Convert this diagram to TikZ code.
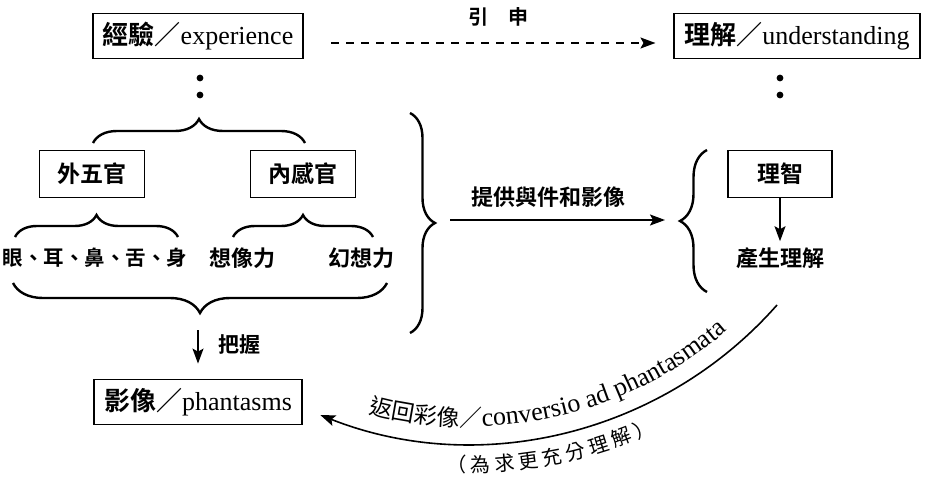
\documentclass[tikz,border=0pt]{standalone}
\usepackage{fontspec}
\setmainfont{Liberation Serif}
\newfontfamily\cjk{Noto Sans CJK TC}[BoldFont={Noto Sans CJK TC Bold}]
\usetikzlibrary{decorations.pathreplacing,decorations.text,arrows.meta,calc}
\newcommand\cjkc{\cjk\mdseries\fontsize{23}{23}\selectfont}
\newcommand\latc{\rmfamily\mdseries\fontsize{26}{26}\selectfont}
\newcommand\cjkp{\cjk\mdseries\fontsize{20}{20}\selectfont}
\begin{document}
\begin{tikzpicture}[x=1pt,y=-1pt,
 box/.style={draw,line width=1.8pt,inner xsep=10pt,inner ysep=0pt,minimum height=45pt,font=\fontsize{26}{30}\selectfont},
 sbox/.style={draw,line width=1.8pt,minimum width=105pt,minimum height=47pt,inner sep=0pt,font=\cjk\bfseries\fontsize{23}{28}\selectfont},
 lbl/.style={inner sep=1pt,font=\cjk\bfseries\fontsize{22}{26}\selectfont},
 brc/.style={decorate,decoration={brace,amplitude=#1},line width=2.4pt},
 arr/.style={line width=1.6pt,-{Stealth[length=15pt,width=11pt,inset=3pt]}},
]
\useasboundingbox (0,0) rectangle (925,484);

% top boxes
\node[box] (exp) at (198,36) {{\cjk\bfseries 經驗／}experience};
\node[box] (und) at (797,36) {{\cjk\bfseries 理解／}understanding};
\node[lbl,font=\cjk\bfseries\fontsize{20}{24}\selectfont] (yin) at (498,17) {引\hspace{1em}申};
\draw[arr,dash pattern=on 8pt off 7pt,shorten <=27pt,shorten >=18pt]
  ([yshift=-7pt]exp.east) -- ([yshift=-7pt]und.west);

% dots
\fill (200,78) circle[radius=3.4];
\fill (200,95) circle[radius=3.4];
\fill (780,78) circle[radius=3.4];
\fill (780,95) circle[radius=3.4];

% senses
\draw[brc=24pt] (93,143) -- (305,143);
\node[sbox] (wai) at (92,174) {外五官};
\node[sbox] (nei) at (303,174) {內感官};
\draw[brc=22pt] (15,237) -- (178,237);
\draw[brc=22pt] (233,237) -- (373,237);
\node[lbl,font=\cjk\bfseries\fontsize{20.5}{24}\selectfont] (eye) at (95,258) {眼、耳、鼻、舌、身};
\node[lbl] (xiang) at (242,258) {想像力};
\node[lbl] (huan) at (361,258) {幻想力};
\draw[brc=30pt] (387,283) -- (13,283);

% grasp
\coordinate (bb) at (198,330);
\node[box] (phan) at (198,402) {{\cjk\bfseries 影像／}phantasms};
\draw[arr,shorten >=15pt] (bb) -- (phan.north);
\node[lbl,font=\cjk\bfseries\fontsize{21}{24}\selectfont] (ba) at (239,345) {把握};

% big brace and provide arrow
\draw[brc=25pt] (410,113) -- (410,333);
\draw[brc=27pt] (707,292) -- (707,150);
\coordinate (rbt) at (435,220);
\coordinate (lbt) at (680,220);
\draw[arr,shorten <=15pt,shorten >=15pt] (rbt) -- (lbt);
\node[lbl] (ti) at (548,197) {提供與件和影像};

% intellect
\node[sbox,minimum width=104pt] (zhi) at (780,174) {理智};
\node[lbl] (chan) at (780,258) {產生理解};
\draw[arr,shorten >=5pt] (zhi.south) -- (chan.north);

% conversio arc
\coordinate (C) at (470,34.5);
\coordinate (cs) at (777,305);
\draw[arr] (cs) arc[start angle=41.4,end angle=111.5,radius=409];
\path[decorate,decoration={text along path,text align=center,
  text={|\cjkc|返回彩像／|\latc|conversio ad phantasmata}}]
  ($(C)+(110:392)$) arc[start angle=110,end angle=44,radius=392];
\path[decorate,decoration={text along path,text align=center,
  text={|\cjkp|（ 為 求 更 充 分 理 解 ）}}]
  ($(C)+(101:438)$) arc[start angle=101,end angle=57,radius=438];
\end{tikzpicture}
\end{document}
